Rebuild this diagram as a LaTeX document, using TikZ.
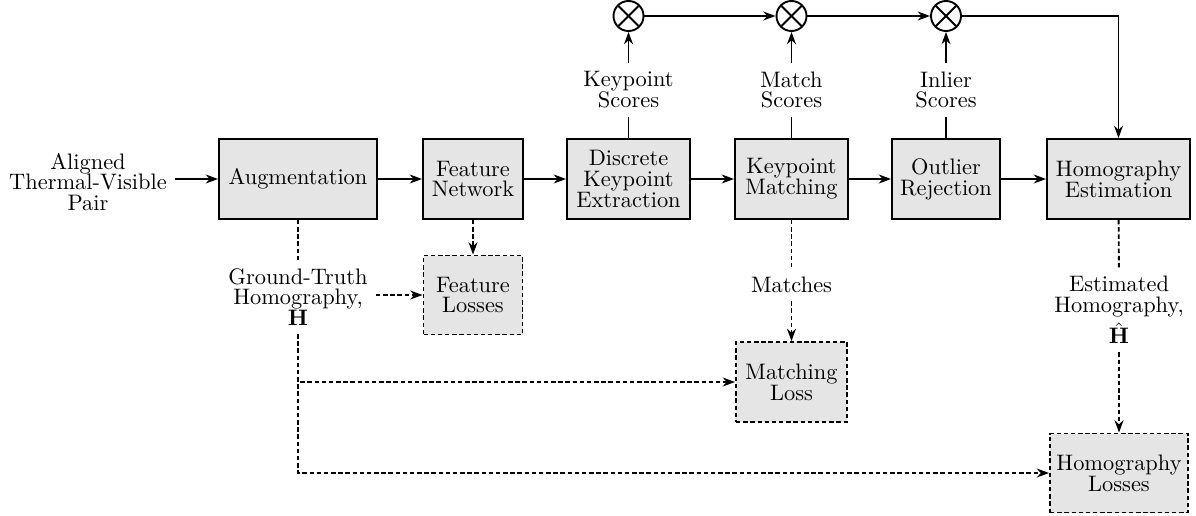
\documentclass[tikz,border=0pt]{standalone}
\usetikzlibrary{arrows.meta}
\newcommand\pxu{0.4465pt}
\begin{document}
\begin{tikzpicture}[x=0.4465pt,y=-0.4465pt, line width=0.85pt,
  >={Stealth[length=5.5pt,width=4pt,inset=1.8pt]},
  every node/.style={font=\fontsize{10}{9.3}\selectfont, align=center},
  sz/.style 2 args={minimum width={#1*\pxu}, minimum height={#2*\pxu}},
  blk/.style={draw, fill=black!10, inner sep=0pt},
  dsh/.style={dash pattern=on 2pt off 1.2pt},
  lossbox/.style={blk, dsh},
  mult/.style={draw, circle, minimum size={30*\pxu}, inner sep=0pt,
    path picture={
      \draw ([shift={(45:7pt)}]path picture bounding box.center) -- ([shift={(225:7pt)}]path picture bounding box.center);
      \draw ([shift={(135:7pt)}]path picture bounding box.center) -- ([shift={(315:7pt)}]path picture bounding box.center);
    }}]
\useasboundingbox (0,0) rectangle (1196,515);

% main row
\node[blk, sz={158}{80}] (aug) at (298,179) {Augmentation};
\node[blk, sz={100}{80}] (fn) at (473,179) {Feature\\Network};
\node[blk, sz={123}{80}] (dke) at (628.5,179) {Discrete\\Keypoint\\Extraction};
\node[blk, sz={113}{80}] (km) at (791.5,179) {Keypoint\\Matching};
\node[blk, sz={108}{80}] (or) at (946,179) {Outlier\\Rejection};
\node[blk, sz={143}{80}] (he) at (1118.5,179) {Homography\\Estimation};

% input
\node (in) at (88,182) {Aligned\\Thermal-Visible\\Pair};
\draw[->] (in.east |- aug) -- (aug);
\draw[->] (aug) -- (fn);
\draw[->] (fn) -- (dke);
\draw[->] (dke) -- (km);
\draw[->] (km) -- (or);
\draw[->] (or) -- (he);

% scores
\node[mult] (m1) at (628.5,16) {};
\node[mult] (m2) at (791.5,16) {};
\node[mult] (m3) at (946,16) {};
\node (ks) at (628.5,90) {Keypoint\\Scores};
\node (ms) at (791.5,90) {Match\\Scores};
\node (is) at (946,90) {Inlier\\Scores};
\draw (dke) -- (ks); \draw[->] (ks) -- (m1);
\draw (km) -- (ms);  \draw[->] (ms) -- (m2);
\draw (or) -- (is);  \draw[->] (is) -- (m3);
\draw[->] (m1) -- (m2);
\draw[->] (m2) -- (m3);
\draw[->] (m3) -| (he);

% losses
\node[lossbox, sz={99}{79}] (fl) at (473,295) {Feature\\Losses};
\node[lossbox, sz={111}{80}] (ml) at (791.5,382) {Matching\\Loss};
\node[lossbox, sz={138}{79}] (hl) at (1119,473) {Homography\\Losses};

\node (gt) at (298,297) {Ground-Truth\\Homography,\\$\mathbf{H}$};
\node (mt) at (791.5,285) {Matches};
\node (eh) at (1119,310) {Estimated\\Homography,\\[1.5pt]$\hat{\mathbf{H}}$};

\draw[dsh] (aug) -- (gt);
\draw[dsh,->] (gt.east |- fl) -- (fl);
\draw[dsh,->] (gt) |- (ml);
\draw[dsh,->] (gt) |- (hl);
\draw[dsh,->] (fn) -- (fl);
\draw[dsh] (km) -- (mt);
\draw[dsh,->] (mt) -- (ml);
\draw[dsh] (he) -- (eh);
\draw[dsh,->] (eh) -- (hl);
\end{tikzpicture}
\end{document}
